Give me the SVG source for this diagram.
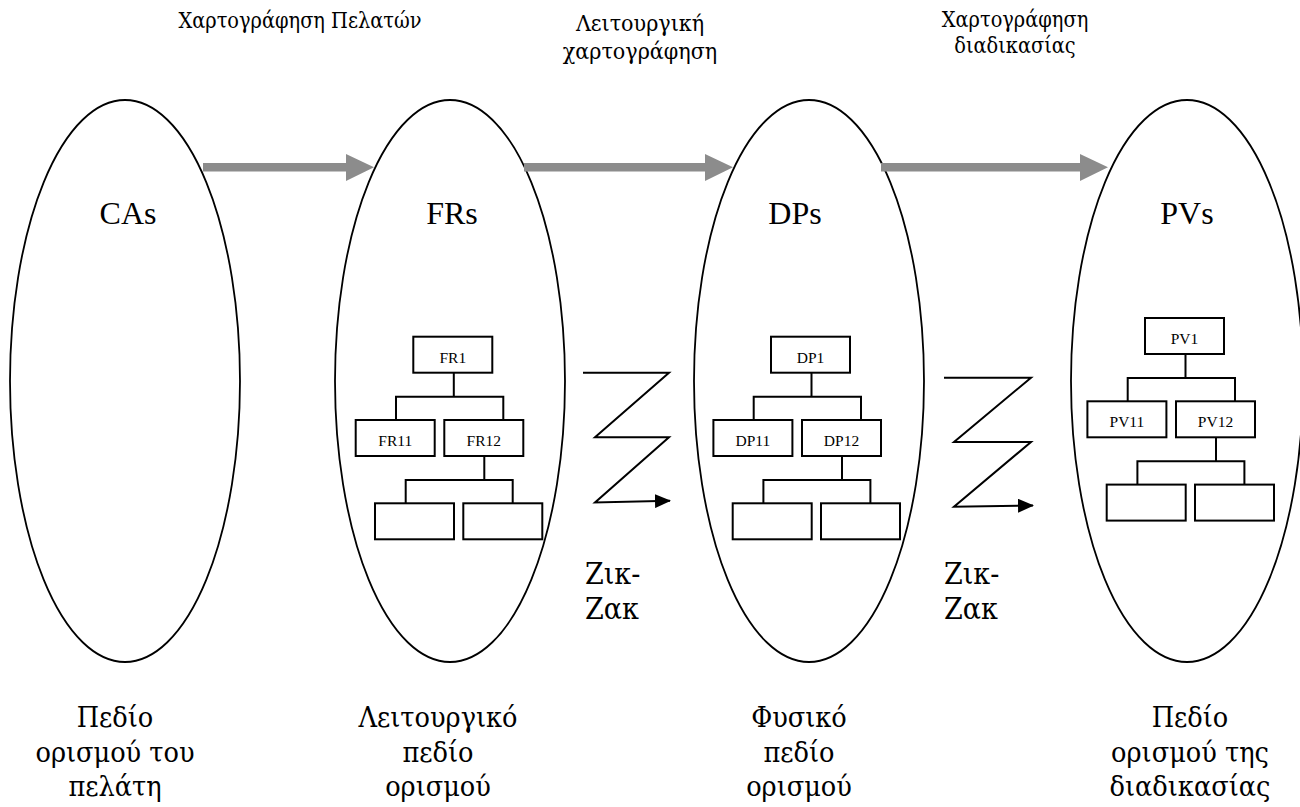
<svg xmlns="http://www.w3.org/2000/svg" width="1300" height="807" viewBox="0 0 1300 807">
  <style>
    .domain { fill: none; stroke: #000; stroke-width: 1.8; }
    .box { fill: #fff; stroke: #000; stroke-width: 2; }
    .wire { fill: none; stroke: #000; stroke-width: 2; }
    .zig { fill: none; stroke: #000; stroke-width: 2; }
    .flow { fill: #8c8c8c; stroke: none; }
    .t { font-family: "Liberation Serif", "Times New Roman", serif; fill: #000; text-anchor: middle; }
    .g { font-family: "DejaVu Serif", serif; font-stretch: condensed; }
    .small { font-size: 15.5px; }
    .cap { font-size: 21.5px; }
    .capm { font-size: 23px; }
    .big { font-size: 32px; }
    .lab { font-size: 28.5px; }
    .zz { font-size: 30px; text-anchor: start; }
  </style>
  <defs>
    <marker id="head" markerUnits="userSpaceOnUse" markerWidth="16" markerHeight="14" refX="15" refY="7" orient="auto">
      <path d="M0,0 L16,7 L0,14 Z" fill="#000"/>
    </marker>
    <!-- three-level decomposition tree, drawn relative to the top box -->
    <g id="treeWires">
      <path class="wire" d="M40.5,36 V60 M-17.3,83.3 V60 H90 V83.3 M71,119.3 V143.3 M-7.6,166.6 V143.3 H99.4 V166.6"/>
    </g>
  </defs>

  <!-- domains -->
  <g id="domain-ca">
    <ellipse class="domain" cx="125" cy="381" rx="115" ry="281"/>
    <text class="t big" x="128" y="224">CAs</text>
    <text class="t g lab" x="115" y="727">Πεδίο</text>
    <text class="t g lab" x="115" y="762">ορισμού του</text>
    <text class="t g lab" x="115" y="796">πελάτη</text>
  </g>
  <g id="domain-fr">
    <ellipse class="domain" cx="450" cy="381" rx="115" ry="281"/>
    <text class="t big" x="452" y="224">FRs</text>
    <text class="t g lab" x="438" y="727">Λειτουργικό</text>
    <text class="t g lab" x="438" y="762">πεδίο</text>
    <text class="t g lab" x="438" y="796">ορισμού</text>
  </g>
  <g id="domain-dp">
    <ellipse class="domain" cx="809" cy="381" rx="115" ry="281"/>
    <text class="t big" x="795" y="224">DPs</text>
    <text class="t g lab" x="799" y="727">Φυσικό</text>
    <text class="t g lab" x="799" y="762">πεδίο</text>
    <text class="t g lab" x="799" y="796">ορισμού</text>
  </g>
  <g id="domain-pv">
    <ellipse class="domain" cx="1187" cy="381" rx="116" ry="281"/>
    <text class="t big" x="1187" y="224">PVs</text>
    <text class="t g lab" x="1190" y="727">Πεδίο</text>
    <text class="t g lab" x="1190" y="762">ορισμού της</text>
    <text class="t g lab" x="1190" y="796">διαδικασίας</text>
  </g>

  <!-- mapping captions -->
  <g id="caption-customer">
    <text class="t g cap" x="300" y="28">Χαρτογράφηση Πελατών</text>
  </g>
  <g id="caption-functional">
    <text class="t g capm" x="640" y="31">Λειτουργική</text>
    <text class="t g capm" x="640" y="59">χαρτογράφηση</text>
  </g>
  <g id="caption-process">
    <text class="t g cap" x="1015" y="27">Χαρτογράφηση</text>
    <text class="t g cap" x="1015" y="53">διαδικασίας</text>
  </g>

  <!-- FR tree -->
  <g id="tree-fr" transform="translate(413.3,336.7)">
    <use href="#treeWires"/>
    <g id="fr1"><rect class="box" x="0" y="0" width="79" height="36"/><text class="t small" x="39.5" y="26">FR1</text></g>
    <g id="fr11"><rect class="box" x="-57.6" y="83.3" width="79" height="36"/><text class="t small" x="-18.1" y="109.3">FR11</text></g>
    <g id="fr12"><rect class="box" x="31" y="83.3" width="79" height="36"/><text class="t small" x="70.5" y="109.3">FR12</text></g>
    <g id="fr121"><rect class="box" x="-38.3" y="166.6" width="79" height="36"/></g>
    <g id="fr122"><rect class="box" x="50" y="166.6" width="79" height="36"/></g>
  </g>

  <!-- DP tree -->
  <g id="tree-dp" transform="translate(771,336.7)">
    <use href="#treeWires"/>
    <g id="dp1"><rect class="box" x="0" y="0" width="79" height="36"/><text class="t small" x="39.5" y="26">DP1</text></g>
    <g id="dp11"><rect class="box" x="-57.6" y="83.3" width="79" height="36"/><text class="t small" x="-18.1" y="109.3">DP11</text></g>
    <g id="dp12"><rect class="box" x="31" y="83.3" width="79" height="36"/><text class="t small" x="70.5" y="109.3">DP12</text></g>
    <g id="dp121"><rect class="box" x="-38.3" y="166.6" width="79" height="36"/></g>
    <g id="dp122"><rect class="box" x="50" y="166.6" width="79" height="36"/></g>
  </g>

  <!-- PV tree -->
  <g id="tree-pv" transform="translate(1145,318)">
    <use href="#treeWires"/>
    <g id="pv1"><rect class="box" x="0" y="0" width="79" height="36"/><text class="t small" x="39.5" y="26">PV1</text></g>
    <g id="pv11"><rect class="box" x="-57.6" y="83.3" width="79" height="36"/><text class="t small" x="-18.1" y="109.3">PV11</text></g>
    <g id="pv12"><rect class="box" x="31" y="83.3" width="79" height="36"/><text class="t small" x="70.5" y="109.3">PV12</text></g>
    <g id="pv121"><rect class="box" x="-38.3" y="166.6" width="79" height="36"/></g>
    <g id="pv122"><rect class="box" x="50" y="166.6" width="79" height="36"/></g>
  </g>

  <!-- connectors -->
  <g id="connectors">
    <path class="flow" d="M203,163 H346 V154 L374,167.3 L346,181 V171.5 H203 Z"/>
    <path class="flow" d="M524,163 H705 V154 L733,167.3 L705,181 V171.5 H524 Z"/>
    <path class="flow" d="M881,163 H1080 V154 L1108,167.3 L1080,181 V171.5 H881 Z"/>
    <polyline class="zig" points="583,372.7 669,372.7 595,437.3 669,437.3 595,502.5 670,500.7" marker-end="url(#head)"/>
    <polyline class="zig" points="944,377.7 1031,377.7 954,442 1031,442 954,506.7 1033,505.5" marker-end="url(#head)"/>
  </g>

  <!-- zig-zag captions -->
  <g id="zigzag-1">
    <text class="t g zz" x="585" y="584">Ζικ-</text>
    <text class="t g zz" x="585" y="619">Ζακ</text>
  </g>
  <g id="zigzag-2">
    <text class="t g zz" x="944" y="584">Ζικ-</text>
    <text class="t g zz" x="944" y="619">Ζακ</text>
  </g>
</svg>
